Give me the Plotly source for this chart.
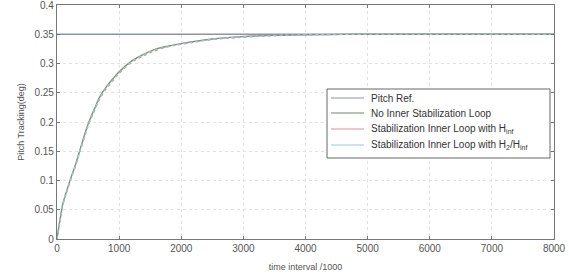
import plotly.graph_objects as go

# Data
t = [0, 50, 100, 150, 200, 300, 400, 500, 600, 700, 800, 900, 1000, 1200, 1400, 1600, 1800, 2000, 2500, 3000, 3500, 4000, 5000, 6000, 7000, 8000]
ref = [0.35] * len(t)
no_inner = [0, 0.034, 0.063, 0.080, 0.097, 0.128, 0.163, 0.196, 0.222, 0.245, 0.261, 0.274, 0.286, 0.304, 0.316, 0.325, 0.330, 0.334, 0.342, 0.346, 0.348, 0.349, 0.35, 0.35, 0.35, 0.35]
hinf = [0, 0.032, 0.061, 0.078, 0.095, 0.126, 0.160, 0.193, 0.219, 0.242, 0.258, 0.271, 0.283, 0.302, 0.314, 0.323, 0.329, 0.333, 0.341, 0.345, 0.3475, 0.349, 0.35, 0.35, 0.35, 0.35]
h2hinf = [0, 0.033, 0.062, 0.079, 0.096, 0.127, 0.161, 0.194, 0.220, 0.243, 0.259, 0.272, 0.284, 0.303, 0.315, 0.324, 0.3295, 0.3335, 0.3415, 0.3455, 0.348, 0.349, 0.35, 0.35, 0.35, 0.35]

names = ["Pitch Ref.", "No Inner Stabilization Loop",
         "Stabilization Inner Loop with H<sub>inf</sub>",
         "Stabilization Inner Loop with H<sub>2</sub>/H<sub>inf</sub>"]
colors = ["#8c93b0", "#6f8a6f", "#e08f8f", "#8fd0d4"]

fig = go.Figure()
fig.add_trace(go.Scatter(x=t, y=ref, mode="lines", name=names[0], showlegend=False,
                         line=dict(color=colors[0], width=1.6)))
fig.add_trace(go.Scatter(x=t, y=no_inner, mode="lines", name=names[1], showlegend=False,
                         line=dict(color="#7d8f7d", width=1.4, shape="spline")))
fig.add_trace(go.Scatter(x=t, y=hinf, mode="lines", name=names[2], showlegend=False,
                         line=dict(color="#a0a098", width=1.4, dash="dot", shape="spline")))
fig.add_trace(go.Scatter(x=t, y=h2hinf, mode="lines", name=names[3], showlegend=False,
                         line=dict(color="#a9c4c0", width=1.2, dash="dot", shape="spline")))

# plot area pixel geometry (for the manual legend box)
L, R, T, B = 57, 554, 5, 239
W, H = R - L, B - T
def px(x):
    return (x - L) / W
def py(y):
    return (B - y) / H

shapes = [dict(type="rect", xref="paper", yref="paper",
               x0=px(327), x1=px(550), y0=py(158), y1=py(89),
               line=dict(color="#666", width=1), fillcolor="white", layer="above")]
annotations = []
rows = [98, 113, 129, 145]
for nm, c, yy in zip(names, colors, rows):
    shapes.append(dict(type="line", xref="paper", yref="paper",
                       x0=px(331), x1=px(364), y0=py(yy), y1=py(yy),
                       line=dict(color=c, width=1.2), layer="above"))
    annotations.append(dict(xref="paper", yref="paper", x=px(369), y=py(yy),
                            xanchor="left", yanchor="middle", text=nm, showarrow=False,
                            font=dict(size=10, color="#333")))

axis_common = dict(showline=True, linecolor="#777", linewidth=1.2, mirror="ticks",
                   ticks="inside", ticklen=3, tickcolor="#777",
                   showgrid=True, gridcolor="#e3e3e3", griddash="dot", gridwidth=1,
                   zeroline=False, tickfont=dict(size=10, color="#555"), automargin=False,
                   ticklabeloverflow="allow")

fig.update_xaxes(range=[0, 8000], tickvals=[0, 1000, 2000, 3000, 4000, 5000, 6000, 7000, 8000],
                 title=dict(text="time interval /1000", font=dict(size=9, color="#555"), standoff=10),
                 **axis_common)
fig.update_yaxes(range=[0, 0.4], tickvals=[0, 0.05, 0.1, 0.15, 0.2, 0.25, 0.3, 0.35, 0.4],
                 ticktext=["0", "0.05", "0.1", "0.15", "0.2", "0.25", "0.3", "0.35", "0.4"],
                 title=dict(text="Pitch Tracking(deg)", font=dict(size=9, color="#555"), standoff=8),
                 **axis_common)

fig.update_layout(
    width=569, height=278,
    margin=dict(l=L, r=569 - R, t=T, b=278 - B, autoexpand=False),
    paper_bgcolor="white", plot_bgcolor="white",
    font=dict(family="Liberation Sans, Arial, sans-serif", color="#444"),
    showlegend=False,
    shapes=shapes, annotations=annotations,
)

fig.write_html("out.html", config={"displayModeBar": False},
               post_script="document.body.style.margin='0';")
